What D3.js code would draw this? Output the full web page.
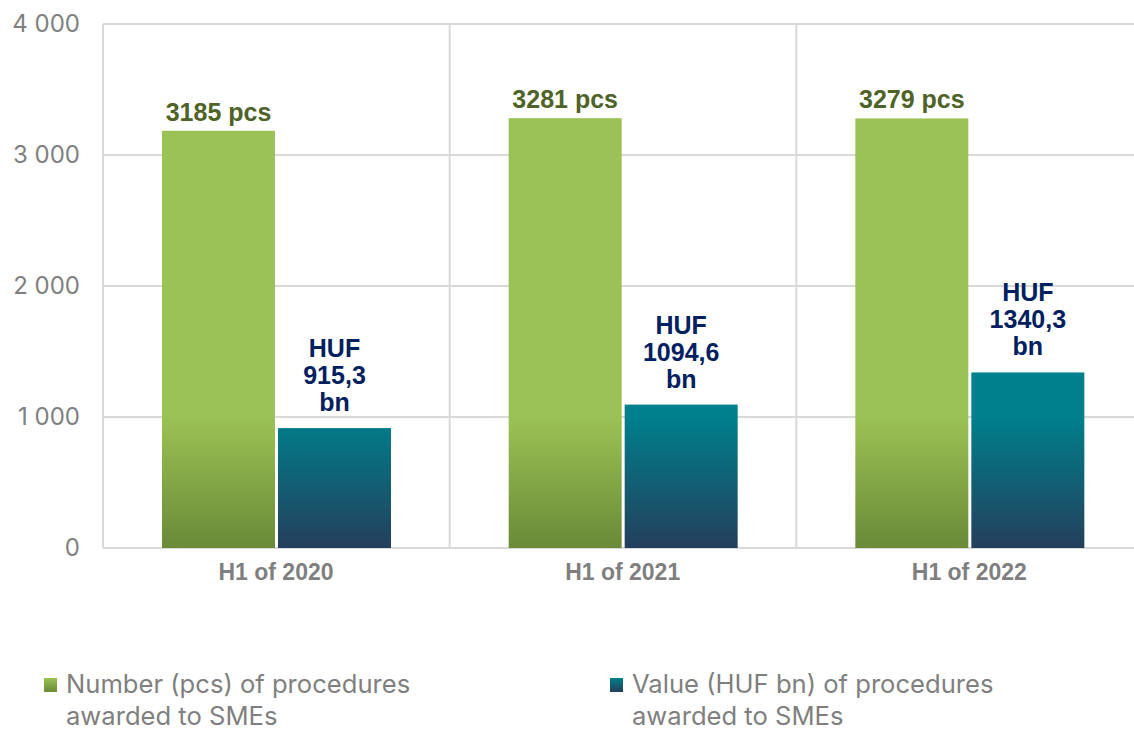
<!DOCTYPE html>
<html>
<head>
<meta charset="utf-8"/>
<title>SME procedures</title>
<script src="https://d3js.org/d3.v7.min.js"></script>
<style>
  html, body { margin: 0; padding: 0; background: #fff; }
  svg { display: block; }
</style>
</head>
<body>
<svg id="chart" width="1134" height="736"></svg>
<script>
// data
var categories = ["H1 of 2020", "H1 of 2021", "H1 of 2022"];
var seriesNames = ["Number (pcs) of procedures awarded to SMEs", "Value (HUF bn) of procedures awarded to SMEs"];
var pcsValues = [3185, 3281, 3279];
var hufValues = [915.3, 1094.6, 1340.3];
var pcsLabels = ["3185 pcs", "3281 pcs", "3279 pcs"];
var hufLabels = [["HUF", "915,3", "bn"], ["HUF", "1094,6", "bn"], ["HUF", "1340,3", "bn"]];
var yTicks = [0, 1000, 2000, 3000, 4000];
var legendLines = [["Number (pcs) of procedures", "awarded to SMEs"], ["Value (HUF bn) of procedures", "awarded to SMEs"]];

var svg = d3.select("#chart"),
    margin = {top: 24, right: -9, bottom: 188, left: 103},
    width = +svg.attr("width") - margin.left - margin.right,
    height = +svg.attr("height") - margin.top - margin.bottom,
    g = svg.append("g").attr("transform", "translate(" + margin.left + "," + margin.top + ")");

var x0 = d3.scaleBand().domain(categories).range([0, width]);
var x1 = d3.scaleBand().domain([0, 1]).range([59, 288]).paddingInner(0.026);
var y = d3.scaleLinear().domain([0, 4000]).range([height, 0]);

var grid = "#d9d9d9";
var boldFont = "bold 25px 'Liberation Sans', Arial, sans-serif";
var defs = svg.append("defs");
function grad(id, top, bottom, units) {
  var lg = defs.append("linearGradient").attr("id", id).attr("x1", 0).attr("x2", 0);
  if (units) {
    lg.attr("gradientUnits", "userSpaceOnUse").attr("y1", y(1000)).attr("y2", y(0));
  } else {
    lg.attr("y1", 0).attr("y2", 1);
  }
  lg.append("stop").attr("offset", "0%").attr("stop-color", top);
  lg.append("stop").attr("offset", "100%").attr("stop-color", bottom);
}
grad("gGreen", "#9bc254", "#6a8a38", true);
grad("gTeal", "#007f8c", "#243f5c", true);
grad("lGreen", "#9bc254", "#6a8a38", false);
grad("lTeal", "#007f8c", "#243f5c", false);

// gridlines
g.append("g")
  .selectAll("line").data(yTicks).join("line")
    .attr("x1", 0).attr("x2", width)
    .attr("y1", function(d) { return y(d); }).attr("y2", function(d) { return y(d); })
    .attr("stroke", grid).attr("stroke-width", 2);

// category separators + left axis line
g.append("g")
  .selectAll("line").data(categories).join("line")
    .attr("x1", function(d) { return x0(d); }).attr("x2", function(d) { return x0(d); })
    .attr("y1", y(4000)).attr("y2", y(0))
    .attr("stroke", grid).attr("stroke-width", 2);

// y tick labels
g.append("g")
  .selectAll("text").data(yTicks).join("text")
    .attr("x", -23).attr("y", function(d) { return y(d); })
    .attr("dy", "0.35em")
    .attr("text-anchor", "end")
    .attr("fill", "#7f7f7f")
    .style("font", "24px Inter, 'Noto Sans', sans-serif")
    .text(function(d) { return d3.format(",")(d).replace(/,/g, " "); });

// bars
var groups = g.selectAll(".cat").data(categories).join("g")
    .attr("class", "cat")
    .attr("transform", function(d) { return "translate(" + x0(d) + ",0)"; });

groups.append("rect")
    .attr("x", x1(0)).attr("width", x1.bandwidth())
    .attr("y", function(d, i) { return y(pcsValues[i]); })
    .attr("height", function(d, i) { return y(0) - y(pcsValues[i]); })
    .attr("fill", "url(#gGreen)");

groups.append("rect")
    .attr("x", x1(1)).attr("width", x1.bandwidth())
    .attr("y", function(d, i) { return y(hufValues[i]); })
    .attr("height", function(d, i) { return y(0) - y(hufValues[i]); })
    .attr("fill", "url(#gTeal)");

// value labels
groups.append("text")
    .attr("x", x1(0) + x1.bandwidth() / 2)
    .attr("y", function(d, i) { return y(pcsValues[i]) - 10; })
    .attr("text-anchor", "middle")
    .attr("fill", "#4f6228")
    .style("font", boldFont)
    .text(function(d, i) { return pcsLabels[i]; });

groups.each(function(d, i) {
  var lines = hufLabels[i];
  var t = d3.select(this).append("text")
      .attr("text-anchor", "middle")
      .attr("fill", "#002060")
      .style("font", boldFont);
  lines.forEach(function(s, k) {
    t.append("tspan")
      .attr("x", x1(1) + x1.bandwidth() / 2)
      .attr("y", y(hufValues[i]) - 17 - (lines.length - 1 - k) * 27)
      .text(s);
  });
});

// x labels
g.append("g")
  .selectAll("text").data(categories).join("text")
    .attr("x", function(d) { return x0(d) + x1(0) + x1.bandwidth() + 1; })
    .attr("y", y(0) + 32)
    .attr("text-anchor", "middle")
    .attr("fill", "#7f7f7f")
    .style("font", "bold 23px 'Liberation Sans', Arial, sans-serif")
    .text(function(d) { return d; });

// legend
var legendX = [44, 610];
var legend = svg.append("g").selectAll("g").data(seriesNames).join("g")
    .attr("transform", function(d, i) { return "translate(" + legendX[i] + ",678)"; });
legend.append("rect")
    .attr("width", 13).attr("height", 14)
    .attr("fill", function(d, i) { return i === 0 ? "url(#lGreen)" : "url(#lTeal)"; });
legend.append("text")
    .attr("fill", "#7f7f7f")
    .style("font", "25.6px Inter, 'Noto Sans', sans-serif")
    .each(function(d, i) {
      var t = d3.select(this);
      legendLines[i].forEach(function(s, k) {
        t.append("tspan").attr("x", 22).attr("y", 15 + k * 32).text(s);
      });
    });
</script>
</body>
</html>
